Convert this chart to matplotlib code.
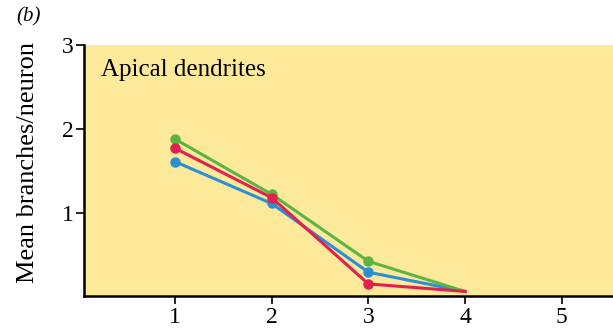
import matplotlib.pyplot as plt

days = [1, 2, 3, 4]
verde = [1.88, 1.22, 0.42, 0.06]
azul = [1.61, 1.11, 0.29, 0.06]
vermelho = [1.77, 1.18, 0.15, 0.06]

plt.rcParams['font.family'] = ['Liberation Serif', 'DejaVu Serif']

fig = plt.figure(figsize=(6.13, 3.32), dpi=100)
ax = fig.add_axes([0.137, 0.107, 0.863, 0.757])
ax.set_facecolor('#fce99a')

# sem marcador no dia 4
marcas = [0, 1, 2]
ax.plot(days, azul, color='#2a8fd4', lw=2.2, marker='o', ms=6.5, markevery=marcas, zorder=3)
ax.plot(days, verde, color='#5cb346', lw=2.2, marker='o', ms=6.5, markevery=marcas, zorder=3)
ax.plot(days, vermelho, color='#e0204e', lw=2.2, marker='o', ms=6.5, markevery=marcas, zorder=4)

ax.set_xlim(0.06, 5.53)
ax.set_ylim(0, 3)
ax.set_xticks([1, 2, 3, 4, 5])
ax.set_yticks([1, 2, 3])
ax.tick_params(direction='out', length=5.5, width=1.2, labelsize=17, pad=2)
for s in ['top', 'right']:
    ax.spines[s].set_visible(False)
for s in ['left', 'bottom']:
    ax.spines[s].set_linewidth(1.8)

ax.set_ylabel('Mean branches/neuron', fontsize=19)
ax.yaxis.set_label_coords(-0.085, 0.535)
ax.text(0.033, 0.945, 'Apical dendrites', transform=ax.transAxes,
        fontsize=18, va='top', ha='left')
fig.text(0.047, 0.95, '(b)', fontsize=15, style='italic', va='center', ha='center')

plt.savefig('out.png', dpi=100)
